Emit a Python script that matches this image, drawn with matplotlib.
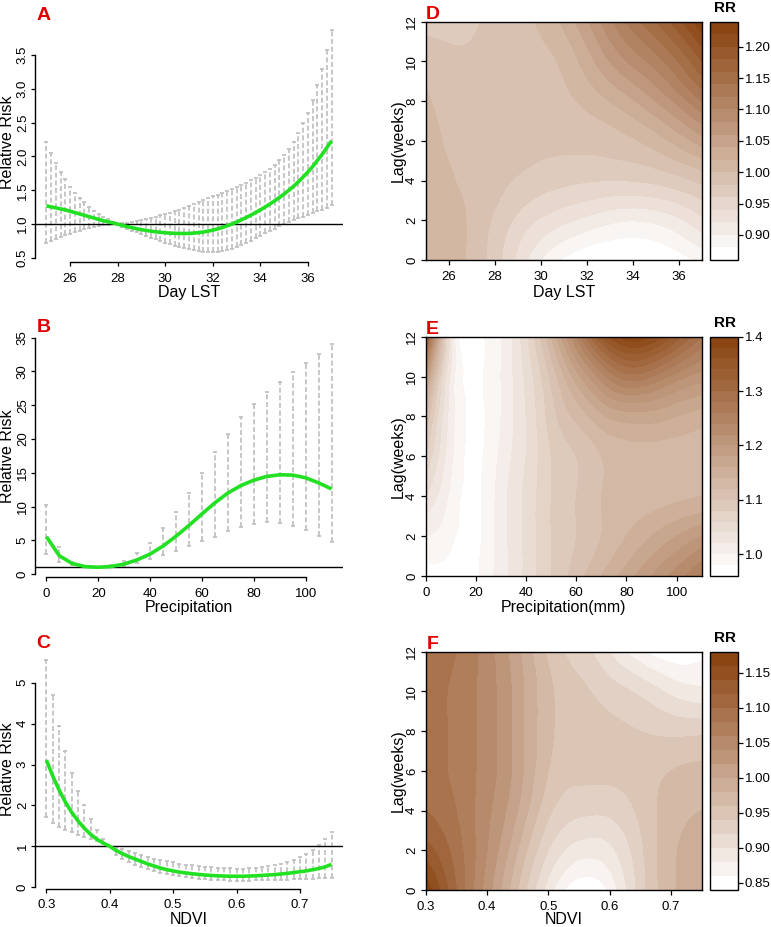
import numpy as np
import matplotlib
matplotlib.use("Agg")
import matplotlib.pyplot as plt
import matplotlib.tri as mtri
from matplotlib.colors import LinearSegmentedColormap

plt.rcParams['font.family'] = ['Liberation Sans', 'DejaVu Sans']

# ---------------- data: lag-response curves (A-C) ----------------
lst_x = [25.0, 25.2, 25.4, 25.6, 25.8, 26.0, 26.2, 26.4, 26.6, 26.8, 27.0, 27.2, 27.4, 27.6, 27.8,
         28.0, 28.2, 28.4, 28.6, 28.8, 29.0, 29.2, 29.4, 29.6, 29.8, 30.0, 30.2, 30.4, 30.6, 30.8,
         31.0, 31.2, 31.4, 31.6, 31.8, 32.0, 32.2, 32.4, 32.6, 32.8, 33.0, 33.2, 33.4, 33.6, 33.8,
         34.0, 34.2, 34.4, 34.6, 34.8, 35.0, 35.2, 35.4, 35.6, 35.8, 36.0, 36.2, 36.4, 36.6, 36.8, 37.0]
lst_rr = [1.27, 1.255, 1.24, 1.225, 1.21, 1.19, 1.17, 1.15, 1.13, 1.11, 1.09, 1.07, 1.05, 1.035, 1.018,
          1.0, 0.981, 0.963, 0.947, 0.932, 0.918, 0.906, 0.896, 0.886, 0.879, 0.872, 0.867, 0.864, 0.862, 0.861,
          0.862, 0.867, 0.874, 0.883, 0.896, 0.911, 0.929, 0.95, 0.974, 1.0, 1.03, 1.062, 1.096, 1.132, 1.17,
          1.21, 1.252, 1.296, 1.343, 1.392, 1.444, 1.5, 1.56, 1.625, 1.695, 1.77, 1.85, 1.94, 2.03, 2.13, 2.23]
lst_hi = [2.22, 2.05, 1.91, 1.77, 1.66, 1.55, 1.46, 1.39, 1.32, 1.26, 1.2, 1.15, 1.11, 1.07, 1.035,
          1.0, 1.01, 1.02, 1.035, 1.05, 1.065, 1.08, 1.095, 1.11, 1.13, 1.15, 1.17, 1.19, 1.215, 1.24,
          1.265, 1.29, 1.32, 1.35, 1.38, 1.41, 1.435, 1.46, 1.49, 1.52, 1.55, 1.58, 1.61, 1.645, 1.68,
          1.72, 1.77, 1.82, 1.88, 1.95, 2.02, 2.11, 2.22, 2.35, 2.49, 2.64, 2.83, 3.06, 3.3, 3.57, 3.87]
lst_lo = [0.72, 0.75, 0.78, 0.81, 0.84, 0.86, 0.885, 0.905, 0.925, 0.945, 0.96, 0.975, 0.985, 0.993, 0.998,
          1.0, 0.96, 0.93, 0.905, 0.877, 0.85, 0.825, 0.8, 0.775, 0.75, 0.725, 0.7, 0.68, 0.66, 0.64,
          0.625, 0.61, 0.6, 0.59, 0.585, 0.585, 0.59, 0.6, 0.615, 0.635, 0.66, 0.69, 0.72, 0.755, 0.79,
          0.83, 0.865, 0.9, 0.935, 0.965, 0.995, 1.025, 1.055, 1.085, 1.11, 1.14, 1.165, 1.19, 1.215, 1.245, 1.28]

pre_x = [0, 5, 10, 15, 20, 25, 30, 35, 40, 45, 50, 55, 60, 65, 70, 75, 80, 85, 90, 95, 100, 105, 110]
pre_rr = [5.53, 2.7, 1.55, 1.1, 1.0, 1.12, 1.48, 2.1, 2.96, 4.15, 5.6, 7.2, 8.9, 10.55, 12.0, 13.1,
          13.9, 14.45, 14.7, 14.65, 14.25, 13.5, 12.6]
pre_hi = [10.2, 3.95, 1.85, 1.2, 1.0, 1.3, 2.0, 3.06, 4.64, 6.76, 9.2, 12.0, 14.9, 18.0, 20.7, 23.2,
          25.2, 27.0, 28.5, 29.9, 31.2, 32.6, 34.0]
pre_lo = [2.96, 1.83, 1.28, 1.03, 1.0, 0.98, 1.2, 1.6, 2.17, 2.81, 3.45, 4.1, 4.9, 5.5, 6.4, 6.9,
          7.4, 7.7, 7.5, 7.1, 6.5, 5.6, 4.7]

ndvi_x = [0.30, 0.31, 0.32, 0.33, 0.34, 0.35, 0.36, 0.37, 0.38, 0.39, 0.40, 0.41, 0.42, 0.43, 0.44, 0.45,
          0.46, 0.47, 0.48, 0.49, 0.50, 0.51, 0.52, 0.53, 0.54, 0.55, 0.56, 0.57, 0.58, 0.59, 0.60,
          0.61, 0.62, 0.63, 0.64, 0.65, 0.66, 0.67, 0.68, 0.69, 0.70, 0.71, 0.72, 0.73, 0.74, 0.75]
ndvi_rr = [3.11, 2.72, 2.38, 2.08, 1.83, 1.62, 1.44, 1.29, 1.17, 1.08, 1.0,
           0.9, 0.82, 0.75, 0.69, 0.63, 0.57, 0.52, 0.47, 0.43, 0.4,
           0.37, 0.35, 0.33, 0.315, 0.3, 0.29, 0.28, 0.275, 0.27, 0.27,
           0.27, 0.275, 0.28, 0.29, 0.3, 0.31, 0.325, 0.34, 0.36, 0.38,
           0.4, 0.43, 0.46, 0.5, 0.56]
ndvi_hi = [5.55, 4.71, 3.94, 3.34, 2.79, 2.36, 2.0, 1.67, 1.4, 1.18, 1.0,
           0.97, 0.93, 0.88, 0.83, 0.78, 0.74, 0.7, 0.67, 0.64, 0.61,
           0.58, 0.555, 0.535, 0.515, 0.5, 0.485, 0.475, 0.465, 0.46, 0.455,
           0.455, 0.46, 0.47, 0.49, 0.51, 0.54, 0.58, 0.62, 0.67, 0.73,
           0.81, 0.91, 1.03, 1.18, 1.36]
ndvi_lo = [1.73, 1.56, 1.48, 1.4, 1.34, 1.28, 1.22, 1.17, 1.12, 1.06, 1.0,
           0.8, 0.7, 0.62, 0.55, 0.49, 0.44, 0.39, 0.35, 0.32, 0.29,
           0.265, 0.245, 0.225, 0.21, 0.195, 0.185, 0.175, 0.17, 0.165, 0.165,
           0.165, 0.165, 0.17, 0.17, 0.175, 0.18, 0.185, 0.19, 0.195, 0.2,
           0.205, 0.21, 0.215, 0.22, 0.23]

# ---------------- data: exposure-lag surfaces (D-F) ----------------
lags = [0, 2, 4, 6, 8, 10, 12]

d_x = [25, 27, 29, 31, 33, 35, 37]
d_rr = [  # rows = lags, cols = d_x
    [1.015, 0.995, 0.935, 0.877, 0.862, 0.862, 0.885],
    [1.014, 0.996, 0.955, 0.925, 0.905, 0.905, 0.935],
    [1.012, 0.994, 0.978, 0.965, 0.960, 0.965, 0.985],
    [1.008, 0.990, 0.985, 0.985, 0.990, 1.010, 1.050],
    [1.003, 0.987, 0.988, 0.995, 1.020, 1.060, 1.120],
    [0.990, 0.983, 0.990, 1.005, 1.060, 1.110, 1.180],
    [0.975, 0.978, 0.992, 1.025, 1.095, 1.160, 1.235],
]

e_x = [0, 10, 20, 30, 40, 50, 60, 70, 80, 90, 100, 110]
e_rr = [
    [0.97, 0.97, 0.975, 1.01, 1.045, 1.08, 1.11, 1.14, 1.17, 1.20, 1.23, 1.26],
    [1.00, 0.985, 0.975, 1.01, 1.045, 1.08, 1.10, 1.12, 1.14, 1.16, 1.18, 1.20],
    [1.04, 0.995, 0.975, 1.01, 1.045, 1.08, 1.10, 1.12, 1.13, 1.13, 1.135, 1.14],
    [1.08, 1.005, 0.975, 1.005, 1.04, 1.08, 1.10, 1.12, 1.13, 1.13, 1.13, 1.13],
    [1.12, 1.01, 0.975, 1.0, 1.04, 1.09, 1.125, 1.155, 1.17, 1.17, 1.16, 1.15],
    [1.20, 1.015, 0.975, 1.0, 1.045, 1.105, 1.17, 1.23, 1.27, 1.26, 1.23, 1.21],
    [1.35, 1.025, 0.972, 1.0, 1.055, 1.14, 1.24, 1.34, 1.39, 1.38, 1.33, 1.28],
]

f_x = [0.30, 0.35, 0.40, 0.45, 0.50, 0.55, 0.60, 0.65, 0.70, 0.75]
f_rr = [
    [1.175, 1.10, 1.03, 0.96, 0.89, 0.845, 0.865, 0.93, 0.975, 0.995],
    [1.13, 1.09, 1.04, 0.98, 0.92, 0.89, 0.895, 0.935, 0.975, 0.99],
    [1.10, 1.08, 1.045, 1.00, 0.945, 0.925, 0.925, 0.945, 0.97, 0.98],
    [1.09, 1.075, 1.05, 1.01, 0.96, 0.945, 0.945, 0.95, 0.96, 0.965],
    [1.09, 1.075, 1.05, 1.01, 0.965, 0.95, 0.945, 0.94, 0.935, 0.935],
    [1.09, 1.075, 1.05, 1.01, 0.965, 0.945, 0.93, 0.915, 0.895, 0.885],
    [1.10, 1.08, 1.05, 1.005, 0.955, 0.93, 0.90, 0.865, 0.845, 0.855],
]

W, H = 771, 927
fig = plt.figure(figsize=(W / 100, H / 100), dpi=100)

RED = '#E00000'
GREY = '#BEBEBE'
GREEN = '#22E022'
TICK_FS = 9.5
LAB_FS = 11.5
brown = LinearSegmentedColormap.from_list('rr', ['white', '#8B4513'])


def px_axes(x0, y0, x1, y1):
    return fig.add_axes([x0 / W, 1 - y1 / H, (x1 - x0) / W, (y1 - y0) / H])


def ftext(x, y, s, **kw):
    fig.text(x / W, 1 - y / H, s, **kw)


def curve_panel(box, x, rr, lo, hi, xlim, ylim, xticks, xtl, yticks, ytl, xlabel, letter, lab_y):
    ax = px_axes(*box)
    x = np.asarray(x); lo = np.asarray(lo); hi = np.asarray(hi)
    m = hi > lo
    ax.vlines(x[m], lo[m], hi[m], colors=GREY, linestyles=(0, (3, 1.6)), lw=1.2)
    ax.plot(x[m], hi[m], ls='none', marker='_', ms=3.2, mew=1.2, color=GREY)
    ax.plot(x[m], lo[m], ls='none', marker='_', ms=3.2, mew=1.2, color=GREY)
    ax.axhline(1, color='black', lw=1.0)
    ax.plot(x, rr, color=GREEN, lw=2.6, solid_capstyle='butt')
    ax.set_xlim(*xlim)
    ax.set_ylim(*ylim)
    for s in ('top', 'right'):
        ax.spines[s].set_visible(False)
    ax.spines['left'].set_bounds(yticks[0], yticks[-1])
    ax.spines['bottom'].set_bounds(xticks[0], xticks[-1])
    for s in ('left', 'bottom'):
        ax.spines[s].set_linewidth(1.0)
    ax.set_xticks(xticks, xtl)
    ax.set_yticks(yticks, ytl)
    ax.tick_params(axis='x', length=3.2, width=0.9, pad=4.5, labelsize=TICK_FS)
    ax.tick_params(axis='y', length=3.2, width=0.9, pad=1.2, labelsize=TICK_FS, labelrotation=90)
    for t in ax.get_yticklabels():
        t.set_va('center')
    cx = (box[0] + box[2]) / 2
    ftext(cx, lab_y, xlabel, fontsize=LAB_FS, ha='center', va='baseline')
    ftext(8, (box[1] + box[3]) / 2, 'Relative Risk', fontsize=LAB_FS, rotation=90, ha='center', va='center')
    ftext(box[0] + 8.5, box[1] - 7.5, letter, fontsize=14, fontweight='bold', color=RED, ha='center', va='center')
    return ax


def surf_panel(box, cbox, xg, Z, levels, cticks, ctl, xticks, xtl, xlabel, letter, lab_y):
    ax = px_axes(*box)
    xg = np.asarray(xg, float); yg = np.asarray(lags, float); Z = np.asarray(Z, float)
    nx, ny = len(xg), len(yg)
    xn = (xg - xg[0]) / (xg[-1] - xg[0]); yn = (yg - yg[0]) / (yg[-1] - yg[0])
    XN, YN = np.meshgrid(xn, yn)
    tris = []
    for j in range(ny - 1):
        for i in range(nx - 1):
            a = j * nx + i
            tris.append([a, a + 1, a + nx + 1])
            tris.append([a, a + nx + 1, a + nx])
    tri = mtri.Triangulation(XN.ravel(), YN.ravel(), np.array(tris))
    tri_r, z_r = mtri.UniformTriRefiner(tri).refine_field(Z.ravel(), subdiv=4)
    z_r = np.clip(z_r, levels[0] + 1e-6, levels[-1] - 1e-6)
    tri_p = mtri.Triangulation(tri_r.x * (xg[-1] - xg[0]) + xg[0],
                               tri_r.y * (yg[-1] - yg[0]) + yg[0], tri_r.triangles)
    cols = brown(np.linspace(0, 1, len(levels) - 1))
    cf = ax.tricontourf(tri_p, z_r, levels=levels, colors=cols, antialiased=False)
    ax.set_xlim(xg[0], xg[-1])
    ax.set_ylim(0, 12)
    for s in ax.spines.values():
        s.set_linewidth(1.0)
    ax.set_xticks(xticks, xtl)
    ax.set_yticks([0, 2, 4, 6, 8, 10, 12], ['0', '2', '4', '6', '8', '10', '12'])
    ax.tick_params(axis='x', length=3.5, width=0.9, pad=4.5, labelsize=TICK_FS)
    ax.tick_params(axis='y', length=3.5, width=0.9, pad=2.0, labelsize=TICK_FS, labelrotation=90)
    for t in ax.get_yticklabels():
        t.set_va('center')
    cx = (box[0] + box[2]) / 2
    ftext(cx, lab_y, xlabel, fontsize=LAB_FS, ha='center', va='baseline')
    ftext(398, (box[1] + box[3]) / 2, 'Lag(weeks)', fontsize=LAB_FS, rotation=90, ha='center', va='center')
    ftext(box[0] + 7, box[1] - 7.5, letter, fontsize=14, fontweight='bold', color=RED, ha='center', va='center')

    cax = px_axes(*cbox)
    cb = fig.colorbar(cf, cax=cax)
    cb.set_ticks(cticks, labels=ctl)
    cb.outline.set_linewidth(1.0)
    cax.tick_params(length=3.5, width=0.9, pad=1.0, labelsize=TICK_FS)
    ftext((cbox[0] + cbox[2]) / 2 + 0.5, cbox[1] - 13.5, 'RR', fontsize=11, fontweight='bold', ha='center', va='center')


# left column
curve_panel((35, 22.5, 343, 262), lst_x, lst_rr, lst_lo, lst_hi, (24.52, 37.48), (0.44, 3.98),
            [26, 28, 30, 32, 34, 36], ['26', '28', '30', '32', '34', '36'],
            [0.5, 1.0, 1.5, 2.0, 2.5, 3.0, 3.5], ['0.5', '1.0', '1.5', '2.0', '2.5', '3.0', '3.5'],
            'Day LST', 'A', 297)
curve_panel((35, 335, 343, 577.4), pre_x, pre_rr, pre_lo, pre_hi, (-4.4, 114.4), (-0.5, 35.4),
            [0, 20, 40, 60, 80, 100], ['0', '20', '40', '60', '80', '100'],
            [0, 5, 10, 15, 20, 25, 30, 35], ['0', '5', '10', '15', '20', '25', '30', '35'],
            'Precipitation', 'B', 612)
curve_panel((35, 650.5, 343, 888.5), ndvi_x, ndvi_rr, ndvi_lo, ndvi_hi, (0.282, 0.768), (-0.03, 5.79),
            [0.3, 0.4, 0.5, 0.6, 0.7], ['0.3', '0.4', '0.5', '0.6', '0.7'],
            [0, 1, 2, 3, 4, 5], ['0', '1', '2', '3', '4', '5'],
            'NDVI', 'C', 924)

# right column
surf_panel((425.7, 21.7, 701.7, 260), (710, 21.7, 738.3, 260), d_x, d_rr,
           np.round(np.linspace(0.86, 1.24, 20), 2), [0.90, 0.95, 1.00, 1.05, 1.10, 1.15, 1.20],
           ['0.90', '0.95', '1.00', '1.05', '1.10', '1.15', '1.20'],
           [26, 28, 30, 32, 34, 36], ['26', '28', '30', '32', '34', '36'], 'Day LST', 'D', 297)
surf_panel((425.7, 336.7, 701.7, 576), (710, 336.7, 738.3, 576), e_x, e_rr,
           np.round(np.linspace(0.96, 1.40, 23), 2), [1.0, 1.1, 1.2, 1.3, 1.4],
           ['1.0', '1.1', '1.2', '1.3', '1.4'],
           [0, 20, 40, 60, 80, 100], ['0', '20', '40', '60', '80', '100'], 'Precipitation(mm)', 'E', 612)
surf_panel((425.7, 651.7, 701.7, 890), (710, 651.7, 738.3, 890), f_x, f_rr,
           np.round(np.linspace(0.84, 1.18, 18), 2), [0.85, 0.90, 0.95, 1.00, 1.05, 1.10, 1.15],
           ['0.85', '0.90', '0.95', '1.00', '1.05', '1.10', '1.15'],
           [0.3, 0.4, 0.5, 0.6, 0.7], ['0.3', '0.4', '0.5', '0.6', '0.7'], 'NDVI', 'F', 924)

fig.savefig('out.png', dpi=100)
